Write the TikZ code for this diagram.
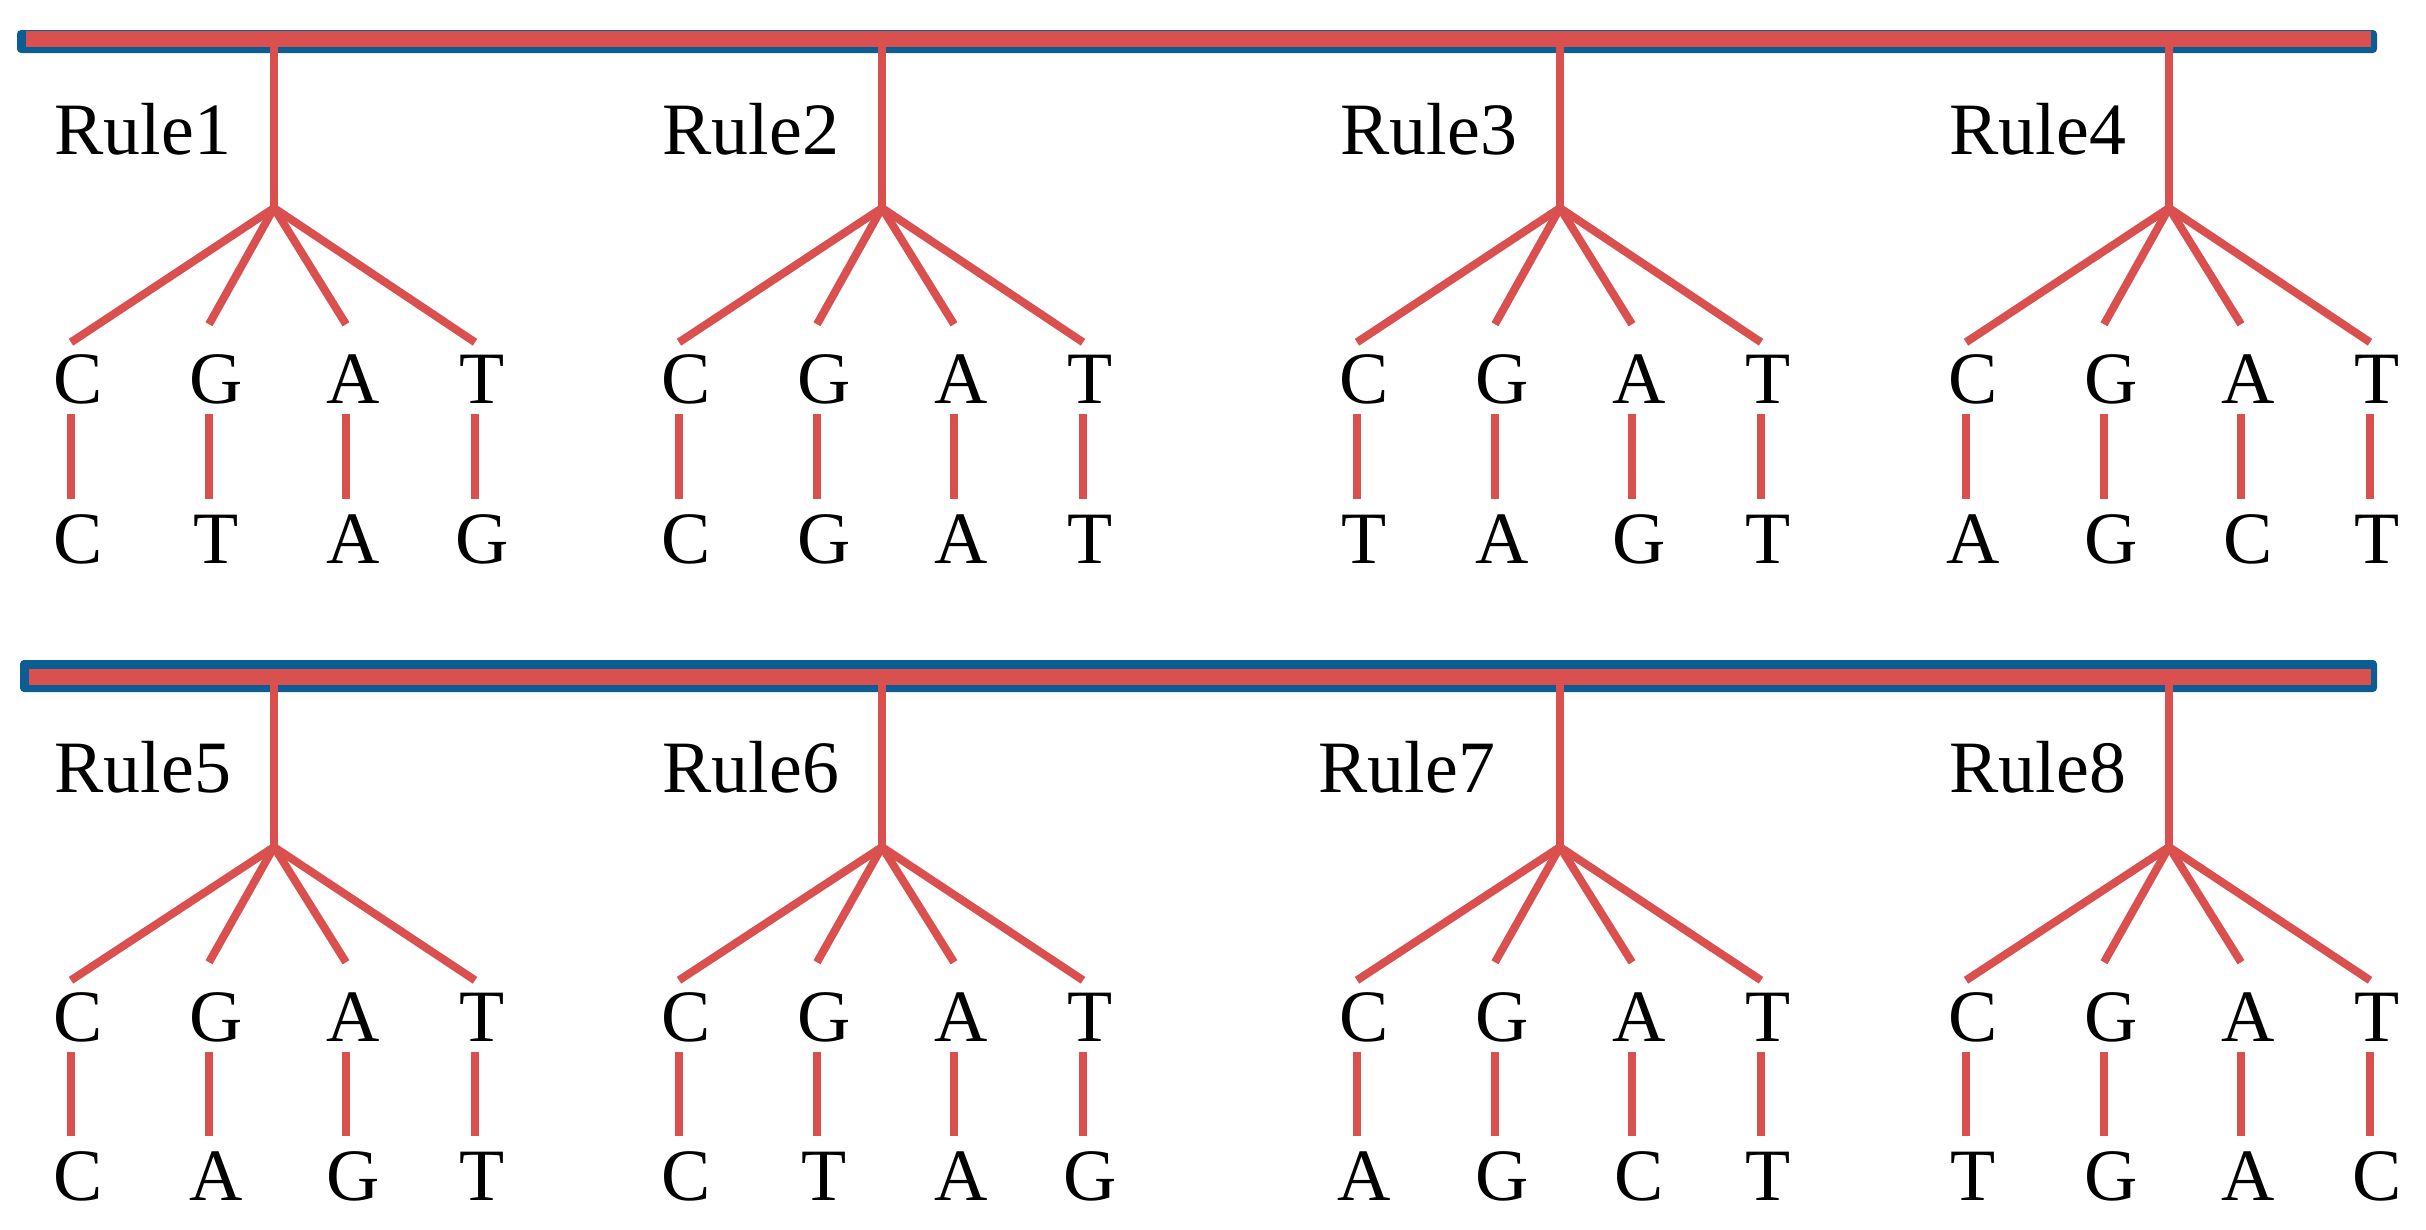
\documentclass[tikz,border=0pt]{standalone}
\usepackage{fontspec}
\setmainfont{Liberation Serif}
\usetikzlibrary{calc}
\definecolor{linered}{RGB}{217,80,78}
\definecolor{barblue}{RGB}{11,94,148}

\begin{document}
\begin{tikzpicture}
  [x=0.01cm, y=-0.01cm,
  redbar/.style={
    rectangle,
    fill=linered,
    inner sep=0pt,
    anchor=north west,
    minimum height=0.16cm
    },
  rulelabel/.style={
    anchor=base west,
    inner sep=0pt,
    font=\fontsize{21}{25}\selectfont
    },
  letter/.style={
    anchor=base,
    inner sep=0pt,
    text height=0.49cm,
    text depth=0pt,
    font=\fontsize{21}{25}\selectfont
    },
  branch/.style={draw=linered, line width=0.08cm},
  pairline/.style={draw=linered, line width=0.08cm, shorten <=0.1cm, shorten >=0.14cm}
  ]
  \useasboundingbox (0,0) rectangle (2426,1230);

  % le due barre
  \fill[barblue, rounded corners=0.04cm] (17,30) rectangle (2377,53);
  \node [redbar, minimum width=23.44cm] (bar1) at (25,30) {};
  \fill[barblue, rounded corners=0.04cm] (20,660) rectangle (2377,692);
  \node [redbar, minimum width=23.41cm] (bar2) at (28,668) {};

  % Rule1
  \node [rulelabel] (rule1title) at (54,154) {Rule1};
  \coordinate (fork1) at (274,208);
  \node [letter] (top1c) at (78,403) {C};
  \node [letter] (top1g) at (216,403) {G};
  \node [letter] (top1a) at (353,403) {A};
  \node [letter] (top1t) at (482,403) {T};
  \node [letter] (bot1c) at (78,563) {C};
  \node [letter] (bot1g) at (216,563) {T};
  \node [letter] (bot1a) at (353,563) {A};
  \node [letter] (bot1t) at (482,563) {G};

  % Rule2
  \node [rulelabel] (rule2title) at (662,154) {Rule2};
  \coordinate (fork2) at (882,208);
  \node [letter] (top2c) at (686,403) {C};
  \node [letter] (top2g) at (824,403) {G};
  \node [letter] (top2a) at (961,403) {A};
  \node [letter] (top2t) at (1090,403) {T};
  \node [letter] (bot2c) at (686,563) {C};
  \node [letter] (bot2g) at (824,563) {G};
  \node [letter] (bot2a) at (961,563) {A};
  \node [letter] (bot2t) at (1090,563) {T};

  % Rule3
  \node [rulelabel] (rule3title) at (1340,154) {Rule3};
  \coordinate (fork3) at (1560,208);
  \node [letter] (top3c) at (1364,403) {C};
  \node [letter] (top3g) at (1502,403) {G};
  \node [letter] (top3a) at (1639,403) {A};
  \node [letter] (top3t) at (1768,403) {T};
  \node [letter] (bot3c) at (1364,563) {T};
  \node [letter] (bot3g) at (1502,563) {A};
  \node [letter] (bot3a) at (1639,563) {G};
  \node [letter] (bot3t) at (1768,563) {T};

  % Rule4
  \node [rulelabel] (rule4title) at (1949,154) {Rule4};
  \coordinate (fork4) at (2169,208);
  \node [letter] (top4c) at (1973,403) {C};
  \node [letter] (top4g) at (2111,403) {G};
  \node [letter] (top4a) at (2248,403) {A};
  \node [letter] (top4t) at (2377,403) {T};
  \node [letter] (bot4c) at (1973,563) {A};
  \node [letter] (bot4g) at (2111,563) {G};
  \node [letter] (bot4a) at (2248,563) {C};
  \node [letter] (bot4t) at (2377,563) {T};

  % Rule5
  \node [rulelabel] (rule5title) at (54,792) {Rule5};
  \coordinate (fork5) at (274,847);
  \node [letter] (top5c) at (78,1041) {C};
  \node [letter] (top5g) at (216,1041) {G};
  \node [letter] (top5a) at (353,1041) {A};
  \node [letter] (top5t) at (482,1041) {T};
  \node [letter] (bot5c) at (78,1200) {C};
  \node [letter] (bot5g) at (216,1200) {A};
  \node [letter] (bot5a) at (353,1200) {G};
  \node [letter] (bot5t) at (482,1200) {T};

  % Rule6
  \node [rulelabel] (rule6title) at (662,792) {Rule6};
  \coordinate (fork6) at (882,847);
  \node [letter] (top6c) at (686,1041) {C};
  \node [letter] (top6g) at (824,1041) {G};
  \node [letter] (top6a) at (961,1041) {A};
  \node [letter] (top6t) at (1090,1041) {T};
  \node [letter] (bot6c) at (686,1200) {C};
  \node [letter] (bot6g) at (824,1200) {T};
  \node [letter] (bot6a) at (961,1200) {A};
  \node [letter] (bot6t) at (1090,1200) {G};

  % Rule7
  \node [rulelabel] (rule7title) at (1318,792) {Rule7};
  \coordinate (fork7) at (1560,847);
  \node [letter] (top7c) at (1364,1041) {C};
  \node [letter] (top7g) at (1502,1041) {G};
  \node [letter] (top7a) at (1639,1041) {A};
  \node [letter] (top7t) at (1768,1041) {T};
  \node [letter] (bot7c) at (1364,1200) {A};
  \node [letter] (bot7g) at (1502,1200) {G};
  \node [letter] (bot7a) at (1639,1200) {C};
  \node [letter] (bot7t) at (1768,1200) {T};

  % Rule8
  \node [rulelabel] (rule8title) at (1949,792) {Rule8};
  \coordinate (fork8) at (2169,847);
  \node [letter] (top8c) at (1973,1041) {C};
  \node [letter] (top8g) at (2111,1041) {G};
  \node [letter] (top8a) at (2248,1041) {A};
  \node [letter] (top8t) at (2377,1041) {T};
  \node [letter] (bot8c) at (1973,1200) {T};
  \node [letter] (bot8g) at (2111,1200) {G};
  \node [letter] (bot8a) at (2248,1200) {A};
  \node [letter] (bot8t) at (2377,1200) {C};

  % rami e collegamenti
  \draw [branch] (bar1.south -| fork1) -- (fork1);
  \draw [branch] (bar1.south -| fork2) -- (fork2);
  \draw [branch] (bar1.south -| fork3) -- (fork3);
  \draw [branch] (bar1.south -| fork4) -- (fork4);
  \draw [branch] (bar2.south -| fork5) -- (fork5);
  \draw [branch] (bar2.south -| fork6) -- (fork6);
  \draw [branch] (bar2.south -| fork7) -- (fork7);
  \draw [branch] (bar2.south -| fork8) -- (fork8);

  \draw [branch] (fork1) -- ([shift={(-7,-11)}]top1c.north);
  \draw [branch] (fork1) -- ([shift={(-7,-29)}]top1g.north);
  \draw [branch] (fork1) -- ([shift={(-7,-29)}]top1a.north);
  \draw [branch] (fork1) -- ([shift={(-7,-11)}]top1t.north);
  \draw [branch] (fork2) -- ([shift={(-7,-11)}]top2c.north);
  \draw [branch] (fork2) -- ([shift={(-7,-29)}]top2g.north);
  \draw [branch] (fork2) -- ([shift={(-7,-29)}]top2a.north);
  \draw [branch] (fork2) -- ([shift={(-7,-11)}]top2t.north);
  \draw [branch] (fork3) -- ([shift={(-7,-11)}]top3c.north);
  \draw [branch] (fork3) -- ([shift={(-7,-29)}]top3g.north);
  \draw [branch] (fork3) -- ([shift={(-7,-29)}]top3a.north);
  \draw [branch] (fork3) -- ([shift={(-7,-11)}]top3t.north);
  \draw [branch] (fork4) -- ([shift={(-7,-11)}]top4c.north);
  \draw [branch] (fork4) -- ([shift={(-7,-29)}]top4g.north);
  \draw [branch] (fork4) -- ([shift={(-7,-29)}]top4a.north);
  \draw [branch] (fork4) -- ([shift={(-7,-11)}]top4t.north);
  \draw [branch] (fork5) -- ([shift={(-7,-11)}]top5c.north);
  \draw [branch] (fork5) -- ([shift={(-7,-29)}]top5g.north);
  \draw [branch] (fork5) -- ([shift={(-7,-29)}]top5a.north);
  \draw [branch] (fork5) -- ([shift={(-7,-11)}]top5t.north);
  \draw [branch] (fork6) -- ([shift={(-7,-11)}]top6c.north);
  \draw [branch] (fork6) -- ([shift={(-7,-29)}]top6g.north);
  \draw [branch] (fork6) -- ([shift={(-7,-29)}]top6a.north);
  \draw [branch] (fork6) -- ([shift={(-7,-11)}]top6t.north);
  \draw [branch] (fork7) -- ([shift={(-7,-11)}]top7c.north);
  \draw [branch] (fork7) -- ([shift={(-7,-29)}]top7g.north);
  \draw [branch] (fork7) -- ([shift={(-7,-29)}]top7a.north);
  \draw [branch] (fork7) -- ([shift={(-7,-11)}]top7t.north);
  \draw [branch] (fork8) -- ([shift={(-7,-11)}]top8c.north);
  \draw [branch] (fork8) -- ([shift={(-7,-29)}]top8g.north);
  \draw [branch] (fork8) -- ([shift={(-7,-29)}]top8a.north);
  \draw [branch] (fork8) -- ([shift={(-7,-11)}]top8t.north);

  \draw [pairline] ([shift={(-7,0)}]top1c.south) -- ([shift={(-7,0)}]bot1c.north);
  \draw [pairline] ([shift={(-7,0)}]top1g.south) -- ([shift={(-7,0)}]bot1g.north);
  \draw [pairline] ([shift={(-7,0)}]top1a.south) -- ([shift={(-7,0)}]bot1a.north);
  \draw [pairline] ([shift={(-7,0)}]top1t.south) -- ([shift={(-7,0)}]bot1t.north);
  \draw [pairline] ([shift={(-7,0)}]top2c.south) -- ([shift={(-7,0)}]bot2c.north);
  \draw [pairline] ([shift={(-7,0)}]top2g.south) -- ([shift={(-7,0)}]bot2g.north);
  \draw [pairline] ([shift={(-7,0)}]top2a.south) -- ([shift={(-7,0)}]bot2a.north);
  \draw [pairline] ([shift={(-7,0)}]top2t.south) -- ([shift={(-7,0)}]bot2t.north);
  \draw [pairline] ([shift={(-7,0)}]top3c.south) -- ([shift={(-7,0)}]bot3c.north);
  \draw [pairline] ([shift={(-7,0)}]top3g.south) -- ([shift={(-7,0)}]bot3g.north);
  \draw [pairline] ([shift={(-7,0)}]top3a.south) -- ([shift={(-7,0)}]bot3a.north);
  \draw [pairline] ([shift={(-7,0)}]top3t.south) -- ([shift={(-7,0)}]bot3t.north);
  \draw [pairline] ([shift={(-7,0)}]top4c.south) -- ([shift={(-7,0)}]bot4c.north);
  \draw [pairline] ([shift={(-7,0)}]top4g.south) -- ([shift={(-7,0)}]bot4g.north);
  \draw [pairline] ([shift={(-7,0)}]top4a.south) -- ([shift={(-7,0)}]bot4a.north);
  \draw [pairline] ([shift={(-7,0)}]top4t.south) -- ([shift={(-7,0)}]bot4t.north);
  \draw [pairline] ([shift={(-7,0)}]top5c.south) -- ([shift={(-7,0)}]bot5c.north);
  \draw [pairline] ([shift={(-7,0)}]top5g.south) -- ([shift={(-7,0)}]bot5g.north);
  \draw [pairline] ([shift={(-7,0)}]top5a.south) -- ([shift={(-7,0)}]bot5a.north);
  \draw [pairline] ([shift={(-7,0)}]top5t.south) -- ([shift={(-7,0)}]bot5t.north);
  \draw [pairline] ([shift={(-7,0)}]top6c.south) -- ([shift={(-7,0)}]bot6c.north);
  \draw [pairline] ([shift={(-7,0)}]top6g.south) -- ([shift={(-7,0)}]bot6g.north);
  \draw [pairline] ([shift={(-7,0)}]top6a.south) -- ([shift={(-7,0)}]bot6a.north);
  \draw [pairline] ([shift={(-7,0)}]top6t.south) -- ([shift={(-7,0)}]bot6t.north);
  \draw [pairline] ([shift={(-7,0)}]top7c.south) -- ([shift={(-7,0)}]bot7c.north);
  \draw [pairline] ([shift={(-7,0)}]top7g.south) -- ([shift={(-7,0)}]bot7g.north);
  \draw [pairline] ([shift={(-7,0)}]top7a.south) -- ([shift={(-7,0)}]bot7a.north);
  \draw [pairline] ([shift={(-7,0)}]top7t.south) -- ([shift={(-7,0)}]bot7t.north);
  \draw [pairline] ([shift={(-7,0)}]top8c.south) -- ([shift={(-7,0)}]bot8c.north);
  \draw [pairline] ([shift={(-7,0)}]top8g.south) -- ([shift={(-7,0)}]bot8g.north);
  \draw [pairline] ([shift={(-7,0)}]top8a.south) -- ([shift={(-7,0)}]bot8a.north);
  \draw [pairline] ([shift={(-7,0)}]top8t.south) -- ([shift={(-7,0)}]bot8t.north);
\end{tikzpicture}
\end{document}
